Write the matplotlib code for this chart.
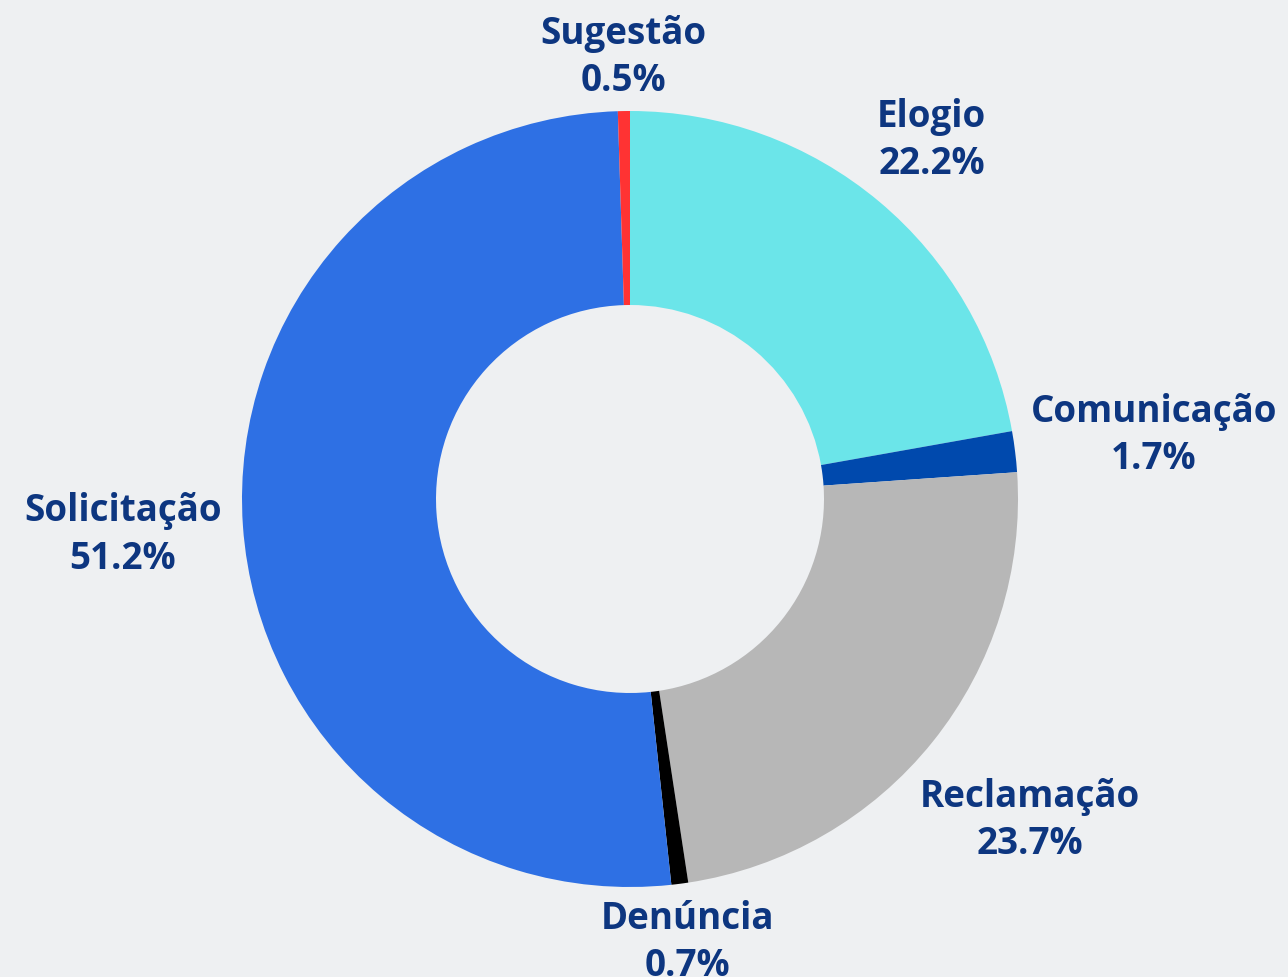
import matplotlib
matplotlib.use("Agg")
import matplotlib.pyplot as plt
import numpy as np

categories = ["Elogio", "Comunicação", "Reclamação", "Denúncia", "Solicitação", "Sugestão"]
values = [22.2, 1.7, 23.7, 0.7, 51.2, 0.5]
colors = ["#6BE5E9", "#0049AD", "#B7B7B7", "#000000", "#2E70E4", "#FF3333"]
label_dist = [1.21, 1.36, 1.32, 1.15, 1.31, 1.14]

W, H = 1288, 978
fig = plt.figure(figsize=(W / 100, H / 100), dpi=100)
bg = "#eef0f2"
fig.patch.set_facecolor(bg)
ax = fig.add_axes([0, 0, 1, 1])
ax.set_facecolor(bg)

R = 388.0
cx, cy = 630.0, 500.0

wedges, _ = ax.pie(values, colors=colors, startangle=90, counterclock=False,
                   radius=1.0, wedgeprops=dict(width=0.5, edgecolor="none", linewidth=0))
ax.set_xlim(-cx / R, (W - cx) / R)
ax.set_ylim(-(H - cy) / R, cy / R)
ax.set_aspect("auto")
ax.axis("off")

for w, cat, v, d in zip(wedges, categories, values, label_dist):
    ang = np.deg2rad((w.theta1 + w.theta2) / 2)
    x, y = d * np.cos(ang), d * np.sin(ang)
    ax.text(x, y, f"{cat}\n{v:.1f}%", ha="center", va="center", fontsize=26.5,
            fontweight="bold", color="#0D3680", family="Open Sans", linespacing=1.32)

fig.savefig("out.png", dpi=100, facecolor=bg)
